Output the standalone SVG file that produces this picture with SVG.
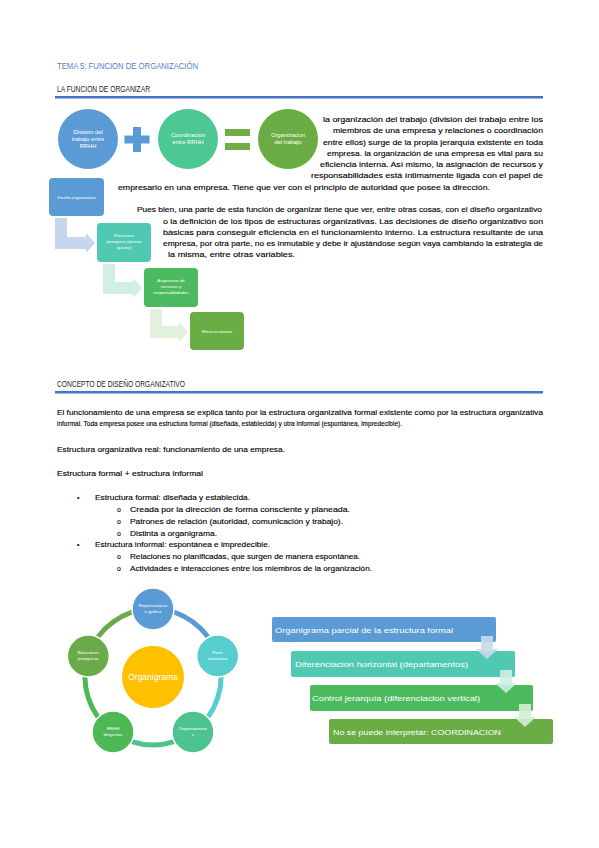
<svg xmlns="http://www.w3.org/2000/svg" width="599" height="848" viewBox="0 0 599 848">
<style>
.t{font-family:"Liberation Sans",Arial,sans-serif;font-size:6.9px;fill:#000;stroke:#000;stroke-width:0.12}
.h{font-family:"Liberation Sans",Arial,sans-serif;font-size:8.5px;fill:#222}
.w{font-family:"Liberation Sans",Arial,sans-serif;fill:#fff;text-anchor:middle}
.s{font-size:4.4px}
.m{font-size:5.8px}
.bx{font-family:"Liberation Sans",Arial,sans-serif;font-size:8px;fill:#fff}
.ring{fill:none;stroke-width:5}
.nd{stroke:#fff;stroke-width:1.5}
</style>
<rect width="599" height="848" fill="#fff"/>
<g id="headers">
<text x="57" y="69" class="h" style="fill:#4f7fcf;font-size:9px" textLength="141" lengthAdjust="spacingAndGlyphs">TEMA 5: FUNCION DE ORGANIZACIÓN</text>
<text x="57" y="92" class="h" textLength="93" lengthAdjust="spacingAndGlyphs">LA FUNCION DE ORGANIZAR</text>
<rect x="55" y="96" width="488" height="2.5" fill="#4472c4"/>
<text x="57" y="387" class="h" textLength="128" lengthAdjust="spacingAndGlyphs">CONCEPTO DE DISEÑO ORGANIZATIVO</text>
<rect x="55" y="391" width="488" height="2.5" fill="#4472c4"/>
</g>
<g id="equation">
<g id="c1"><circle cx="88" cy="139" r="30" fill="#5b9bd5"/>
<text class="w m"><tspan x="88" y="134">Division del</tspan><tspan x="88" y="141">trabajo entre</tspan><tspan x="88" y="148">RRHH</tspan></text></g>
<g id="plus"><rect x="133" y="127" width="8" height="25" fill="#5b9bd5"/><rect x="124.5" y="135.5" width="25" height="8" fill="#5b9bd5"/></g>
<g id="c2"><circle cx="188" cy="139" r="30" fill="#4dc794"/>
<text class="w m"><tspan x="188" y="137">Coordinacion</tspan><tspan x="188" y="144">entre RRHH</tspan></text></g>
<g id="eq"><rect x="225" y="129" width="25" height="7" fill="#70ad47"/><rect x="225" y="143" width="25" height="7" fill="#70ad47"/></g>
<g id="c3"><circle cx="288" cy="139" r="30" fill="#6aad45"/>
<text class="w m"><tspan x="288" y="137">Organizacion</tspan><tspan x="288" y="144">del trabajo</tspan></text></g>
</g>
<g id="para1">
<text class="t" x="323" y="122" textLength="220" lengthAdjust="spacingAndGlyphs">la organización del trabajo (división del trabajo entre los</text>
<text class="t" x="333" y="133" textLength="210" lengthAdjust="spacingAndGlyphs">miembros de una empresa y relaciones o coordinación</text>
<text class="t" x="323" y="145" textLength="220" lengthAdjust="spacingAndGlyphs">entre ellos) surge de la propia jerarquía existente en toda</text>
<text class="t" x="327" y="156" textLength="216" lengthAdjust="spacingAndGlyphs">empresa. la organización de una empresa es vital para su</text>
<text class="t" x="320" y="167" textLength="223" lengthAdjust="spacingAndGlyphs">eficiencia interna. Así mismo, la asignación de recursos y</text>
<text class="t" x="311" y="178" textLength="232" lengthAdjust="spacingAndGlyphs">responsabilidades está íntimamente ligada con el papel de</text>
<text class="t" x="118" y="190" textLength="372" lengthAdjust="spacingAndGlyphs">empresario en una empresa. Tiene que ver con el principio de autoridad que posee la dirección.</text>
</g>
<g id="para2">
<text class="t" x="137" y="212" textLength="405" lengthAdjust="spacingAndGlyphs">Pues bien, una parte de esta función de organizar tiene que ver, entre otras cosas, con el diseño organizativo</text>
<text class="t" x="163" y="224" textLength="380" lengthAdjust="spacingAndGlyphs">o la definición de los tipos de estructuras organizativas. Las decisiones de diseño organizativo son</text>
<text class="t" x="163" y="235" textLength="380" lengthAdjust="spacingAndGlyphs">básicas para conseguir eficiencia en el funcionamiento interno. La estructura resultante de una</text>
<text class="t" x="163" y="246" textLength="380" lengthAdjust="spacingAndGlyphs">empresa, por otra parte, no es inmutable y debe ir ajustándose según vaya cambiando la estrategia de</text>
<text class="t" x="168" y="257" textLength="127" lengthAdjust="spacingAndGlyphs">la misma, entre otras variables.</text>
</g>
<g id="steps-connectors">
<path d="M55,218 H67 V237 H86 V233 L95,243 L86,253 V249 H55 Z" fill="#c6d6ee"/>
<path d="M103,264 H115 V282 H133 V278 L142,288 L133,298 V294 H103 Z" fill="#d2eee6"/>
<path d="M150,309 H162 V326 H179 V322 L188,332 L179,342 V338 H150 Z" fill="#e2f1da"/>
</g>
<g id="step1"><rect x="49" y="178" width="55" height="38" rx="4" fill="#5b9bd5"/><text class="w s" x="76.5" y="199">Diseño organizativo</text></g>
<g id="step2"><rect x="97" y="223" width="54" height="39" rx="4" fill="#50c9b2"/><text class="w s"><tspan x="124" y="237">Estructura</tspan><tspan x="124" y="243">jerarquica (revisar</tspan><tspan x="124" y="249">ajustar)</tspan></text></g>
<g id="step3"><rect x="144" y="268" width="54" height="39" rx="4" fill="#4cbb5f"/><text class="w s"><tspan x="171" y="282">Asignacion de</tspan><tspan x="171" y="288">recursos y</tspan><tspan x="171" y="294">responsabilidades</tspan></text></g>
<g id="step4"><rect x="190" y="312" width="54" height="38" rx="4" fill="#6aad45"/><text class="w s" x="217" y="333">Eficacia interna</text></g>
<g id="para3">
<text class="t" x="57" y="415" textLength="486" lengthAdjust="spacingAndGlyphs">El funcionamiento de una empresa se explica tanto por la estructura organizativa formal existente como por la estructura organizativa</text>
<text class="t" x="57" y="426" textLength="345" lengthAdjust="spacingAndGlyphs">informal. Toda empresa posee una estructura formal (diseñada, establecida) y otra informal (espontánea, impredecible).</text>
<text class="t" x="57" y="452" textLength="228" lengthAdjust="spacingAndGlyphs">Estructura organizativa real: funcionamiento de una empresa.</text>
<text class="t" x="57" y="476" textLength="146" lengthAdjust="spacingAndGlyphs">Estructura formal + estructura informal</text>
<text class="t" x="77" y="500">•</text>
<text class="t" x="95" y="500" textLength="155" lengthAdjust="spacingAndGlyphs">Estructura formal: diseñada y establecida.</text>
<text class="t" x="117" y="512">o</text>
<text class="t" x="130" y="512" textLength="220" lengthAdjust="spacingAndGlyphs">Creada por la dirección de forma consciente y planeada.</text>
<text class="t" x="117" y="524">o</text>
<text class="t" x="130" y="524" textLength="213" lengthAdjust="spacingAndGlyphs">Patrones de relación (autoridad, comunicación y trabajo).</text>
<text class="t" x="117" y="536">o</text>
<text class="t" x="130" y="536" textLength="87" lengthAdjust="spacingAndGlyphs">Distinta a organigrama.</text>
<text class="t" x="77" y="547">•</text>
<text class="t" x="95" y="547" textLength="175" lengthAdjust="spacingAndGlyphs">Estructura informal: espontánea e impredecible.</text>
<text class="t" x="117" y="559">o</text>
<text class="t" x="130" y="559" textLength="230" lengthAdjust="spacingAndGlyphs">Relaciones no planificadas, que surgen de manera espontánea.</text>
<text class="t" x="117" y="571">o</text>
<text class="t" x="130" y="571" textLength="242" lengthAdjust="spacingAndGlyphs">Actividades e interacciones entre los miembros de la organización.</text>
</g>
<g id="cycle-connectors">
<path class="ring" stroke="#5b9bd5" d="M153,609 A68,68 0 0 1 217.67,655.99"/>
<path class="ring" stroke="#57cdd0" d="M217.67,655.99 A68,68 0 0 1 192.97,732.01"/>
<path class="ring" stroke="#4dc48f" d="M192.97,732.01 A68,68 0 0 1 113.03,732.01"/>
<path class="ring" stroke="#4cb954" d="M113.03,732.01 A68,68 0 0 1 88.33,655.99"/>
<path class="ring" stroke="#6aaa48" d="M88.33,655.99 A68,68 0 0 1 153,609"/>
</g>
<g id="organigrama"><circle cx="153" cy="677" r="31" fill="#ffc000"/><text class="w" style="font-size:8.5px" x="153" y="680">Organigrama</text></g>
<g id="n-representacion"><circle class="nd" cx="153" cy="609" r="21" fill="#5b9bd5"/><text class="w s"><tspan x="153" y="607">Representacio</tspan><tspan x="153" y="613">n gráfica</tspan></text></g>
<g id="n-parte"><circle class="nd" cx="217.67" cy="655.99" r="21" fill="#57cdd0"/><text class="w s"><tspan x="217.67" y="654">Parte</tspan><tspan x="217.67" y="660">estructura</tspan></text></g>
<g id="n-departamentos"><circle class="nd" cx="192.97" cy="732.01" r="21" fill="#4dc48f"/><text class="w s"><tspan x="192.97" y="730">Departamento</tspan><tspan x="192.97" y="736">s</tspan></text></g>
<g id="n-rrhh"><circle class="nd" cx="113.03" cy="732.01" r="21" fill="#4cb954"/><text class="w s"><tspan x="113.03" y="730">RRHH</tspan><tspan x="113.03" y="736">dirigentes</tspan></text></g>
<g id="n-relaciones"><circle class="nd" cx="88.33" cy="655.99" r="21" fill="#6aaa48"/><text class="w s"><tspan x="88.33" y="654">Relaciones</tspan><tspan x="88.33" y="660">jerárquicas</tspan></text></g>
<g id="b1"><rect x="272" y="617" width="224" height="25" rx="2" fill="#5b9bd5"/><text class="bx" x="275" y="633" textLength="178" lengthAdjust="spacingAndGlyphs">Organigrama parcial de la estructura formal</text></g>
<g id="b2"><rect x="291" y="651" width="224" height="26" rx="2" fill="#50c9b2"/><text class="bx" x="295" y="667" textLength="173" lengthAdjust="spacingAndGlyphs">Diferenciacion horizontal (departamentos)</text></g>
<g id="b3"><rect x="310" y="685" width="223" height="26" rx="2" fill="#4cbb5f"/><text class="bx" x="312" y="701" textLength="168" lengthAdjust="spacingAndGlyphs">Control jerarquía (diferenciacion vertical)</text></g>
<g id="b4"><rect x="329" y="719" width="224" height="25" rx="2" fill="#6aad45"/><text class="bx" x="333" y="735" textLength="168" lengthAdjust="spacingAndGlyphs">No se puede interpretar: COORDINACION</text></g>
<g id="list-connectors">
<path d="M481,636 H493 V649 H498 L487,659 L476,649 H481 Z" fill="#c9d8ec" fill-opacity="0.9"/>
<path d="M500,670 H512 V683 H517 L506,693 L495,683 H500 Z" fill="#cdeee6" fill-opacity="0.9"/>
<path d="M519,704 H531 V717 H536 L525,727 L514,717 H519 Z" fill="#d4eed3" fill-opacity="0.9"/>
</g>
</svg>
